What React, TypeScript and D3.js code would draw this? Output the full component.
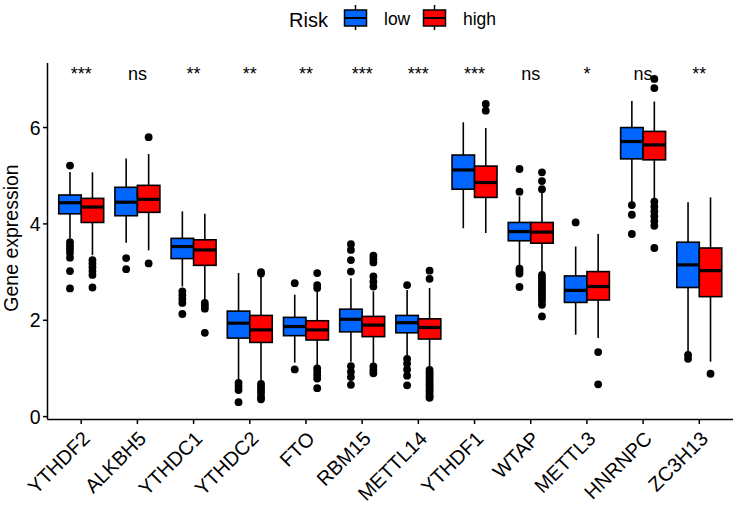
import React from "react";
import * as d3 from "d3";

const genes = ["YTHDF2","ALKBH5","YTHDC1","YTHDC2","FTO","RBM15","METTL14","YTHDF1","WTAP","METTL3","HNRNPC","ZC3H13"];
const groups = ["low","high"];
const groupColors = ["#0066FF","#FF0000"];
const sigLabels = ["***","ns","**","**","**","***","***","***","ns","*","ns","**"];
const yTicks = [0,2,4,6];

// [whiskerLow, q1, median, q3, whiskerHigh]
const lowStats = [
  [3.70,4.21,4.44,4.60,5.08],
  [3.61,4.17,4.45,4.76,5.36],
  [2.70,3.28,3.53,3.70,4.26],
  [0.76,1.63,1.94,2.19,2.98],
  [1.12,1.68,1.87,2.06,2.53],
  [1.14,1.76,2.02,2.23,2.87],
  [1.26,1.74,1.95,2.10,2.63],
  [3.91,4.72,5.12,5.43,6.11],
  [3.11,3.65,3.84,4.03,4.57],
  [1.70,2.37,2.62,2.92,3.53],
  [4.43,5.35,5.71,6.00,6.55],
  [1.33,2.68,3.15,3.62,4.45],
];
const highStats = [
  [3.35,4.03,4.35,4.53,5.07],
  [3.45,4.24,4.51,4.80,5.45],
  [2.39,3.14,3.46,3.67,4.21],
  [0.73,1.54,1.80,2.10,2.95],
  [1.05,1.59,1.80,1.99,2.63],
  [1.07,1.66,1.90,2.08,2.60],
  [1.00,1.61,1.85,2.03,2.67],
  [3.81,4.55,4.86,5.20,5.99],
  [2.98,3.60,3.83,4.03,4.64],
  [1.63,2.42,2.70,3.01,3.79],
  [4.50,5.33,5.64,5.92,6.54],
  [1.14,2.49,3.03,3.50,4.55],
];
const lowOutliers = [
  [5.21,3.62,3.55,3.48,3.40,3.30,3.02,2.66],
  [3.29,3.06],
  [2.60,2.52,2.44,2.36,2.13],
  [0.70,0.62,0.55,0.30],
  [2.77,0.98],
  [3.58,3.46,3.25,3.01,1.05,0.93,0.82,0.66],
  [2.73,1.20,1.10,0.98,0.85,0.65],
  [],
  [5.14,4.67,3.07,3.02,2.97,2.69],
  [4.03],
  [4.39,4.19,3.79],
  [1.28,1.20],
];
const highOutliers = [
  [3.25,3.18,3.10,3.02,2.94,2.68],
  [5.80,3.18],
  [2.36,2.30,2.24,1.74],
  [3.00,2.97,0.68,0.62,0.56,0.50,0.42,0.36],
  [2.98,2.73,2.67,1.00,0.93,0.86,0.79,0.59],
  [3.34,3.27,3.20,2.91,2.80,2.70,1.04,0.97,0.90],
  [3.03,2.86,0.97,0.92,0.87,0.82,0.77,0.72,0.67,0.62,0.57,0.52,0.47,0.42,0.39],
  [6.49,6.35],
  [5.07,4.89,4.72,2.94,2.88,2.82,2.76,2.70,2.64,2.58,2.52,2.46,2.40,2.32,2.08],
  [1.34,0.67],
  [7.01,6.82,4.46,4.36,4.26,4.16,4.06,3.96,3.50],
  [0.89],
];

const W = 735, H = 510;
const FONT = "'Liberation Sans', Arial, Helvetica, sans-serif";
const left = 47.5, right = 733, top = 63, bottom = 419.5;

export default function App() {
  const x = d3.scaleBand<string>().domain(genes).range([left, right]).paddingInner(0).paddingOuter(0.1);
  const y = d3.scaleLinear().domain([-0.06, 7.34]).range([bottom, top]);
  const step = x.step();
  const boxW = step * 0.4;
  const statsByGroup = [lowStats, highStats];
  const outByGroup = [lowOutliers, highOutliers];

  return (
    <svg width={W} height={H} style={{ display: "block", position: "absolute", left: 0, top: 0, background: "#fff" }} fontFamily={FONT}>
      {/* legend */}
      <g>
        <text x={289} y={26.5} fontSize={20} fill="#000">Risk</text>
        {groups.map((g, i) => {
          const kx = i === 0 ? 344.5 : 423.5;
          return (
            <g key={g}>
              <line x1={kx + 11} x2={kx + 11} y1={5} y2={30} stroke="#000" strokeWidth={1.5} />
              <rect x={kx} y={10} width={22} height={16} fill={groupColors[i]} stroke="#000" strokeWidth={1.5} />
              <line x1={kx} x2={kx + 22} y1={18} y2={18} stroke="#000" strokeWidth={2} />
              <text x={kx + 39.5} y={25} fontSize={17.5} fill="#000">{g}</text>
            </g>
          );
        })}
      </g>

      {/* boxes */}
      {genes.map((gene, gi) => {
        const cx = (x(gene) as number) + step / 2;
        return (
          <g key={gene}>
            {groups.map((g, k) => {
              const s = statsByGroup[k][gi];
              const x0 = k === 0 ? cx - boxW : cx;
              const mx = x0 + boxW / 2;
              return (
                <g key={g}>
                  <line x1={mx} x2={mx} y1={y(s[4])} y2={y(s[3])} stroke="#000" strokeWidth={1.6} />
                  <line x1={mx} x2={mx} y1={y(s[1])} y2={y(s[0])} stroke="#000" strokeWidth={1.6} />
                  <rect x={x0} y={y(s[3])} width={boxW} height={y(s[1]) - y(s[3])} fill={groupColors[k]} stroke="#000" strokeWidth={1.6} />
                  <line x1={x0} x2={x0 + boxW} y1={y(s[2])} y2={y(s[2])} stroke="#000" strokeWidth={3.2} />
                  {outByGroup[k][gi].map((v, oi) => (
                    <circle key={oi} cx={mx} cy={y(v)} r={3.9} fill="#000" />
                  ))}
                </g>
              );
            })}
            <text x={cx} y={80} textAnchor="middle" fontSize={18} fill="#000">{sigLabels[gi]}</text>
          </g>
        );
      })}

      {/* axes */}
      <line x1={left} x2={left} y1={top} y2={bottom} stroke="#000" strokeWidth={1.5} />
      <line x1={left} x2={right} y1={bottom} y2={bottom} stroke="#000" strokeWidth={1.5} />
      {yTicks.map((t) => (
        <g key={t}>
          <line x1={left - 4.5} x2={left} y1={y(t)} y2={y(t)} stroke="#000" strokeWidth={1.5} />
          <text x={left - 7} y={y(t)} dy="0.36em" textAnchor="end" fontSize={19.5} fill="#000">{t}</text>
        </g>
      ))}
      {genes.map((gene) => {
        const cx = (x(gene) as number) + step / 2;
        return (
          <g key={gene}>
            <line x1={cx} x2={cx} y1={bottom} y2={bottom + 4.5} stroke="#000" strokeWidth={1.5} />
            <text transform={`translate(${cx + 10},${440}) rotate(-45)`} textAnchor="end" fontSize={20} fill="#000">{gene}</text>
          </g>
        );
      })}
      <text transform={`translate(18,${238}) rotate(-90)`} textAnchor="middle" fontSize={19.5} fill="#000">Gene expression</text>
    </svg>
  );
}
